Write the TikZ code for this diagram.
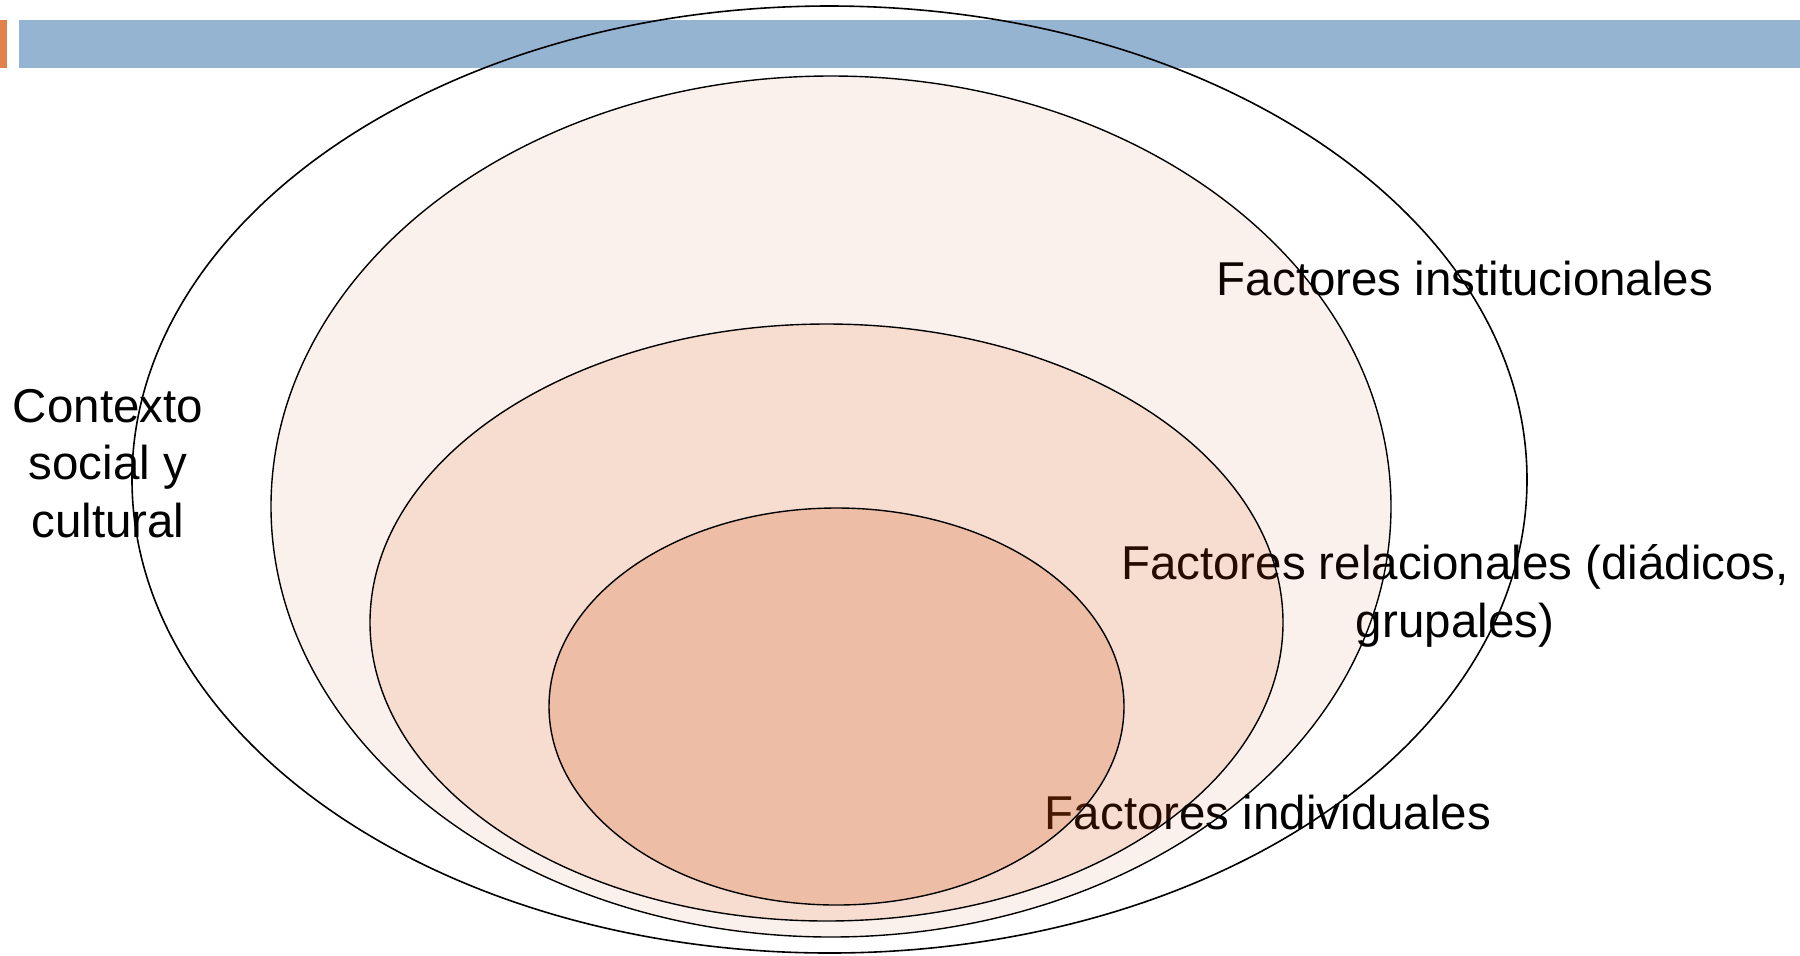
\documentclass[tikz,border=0pt]{standalone}
\usepackage{fontspec}
\setmainfont{Liberation Sans}
\definecolor{barblue}{RGB}{148,180,210}
\definecolor{barorange}{RGB}{224,130,74}
\definecolor{ringbase}{RGB}{204,71,0}
\tikzset{
  lbl/.style={font=\fontsize{23.75pt}{28.7pt}\selectfont, text=black, inner sep=0pt, align=center, anchor=base},
  ring/.style={draw=black, line width=0.7pt, fill=ringbase},
}
\begin{document}
\begin{tikzpicture}[x=0.5pt,y=-0.5pt]
\useasboundingbox (0,0) rectangle (1800,955);
% header bars
\fill[barorange] (0,20) rectangle (7,68);
\fill[barblue] (19,20) rectangle (1800,68);
% labels (drawn beneath the rings); base anchor = last line's baseline
\node[lbl] (contexto) at (108,537) {Contexto\\social y\\cultural};
\node[lbl] (inst) at (1465,295) {Factores institucionales};
\node[lbl] (rel) at (1455,637) {Factores relacionales (diádicos,\\grupales)};
\node[lbl] (indiv) at (1268,829) {Factores individuales};
% rings
\draw[black, line width=0.8pt] (829.5,479.5) ellipse [x radius=348.75pt, y radius=236.75pt];
\draw[ring, fill opacity=0.075] (831,506.5) ellipse [x radius=280pt, y radius=215.25pt];
\draw[ring, fill opacity=0.118] (826.5,622.5) ellipse [x radius=228.25pt, y radius=149.25pt];
\draw[ring, fill opacity=0.207] (836.5,706.5) ellipse [x radius=143.75pt, y radius=99.25pt];
\end{tikzpicture}
\end{document}
